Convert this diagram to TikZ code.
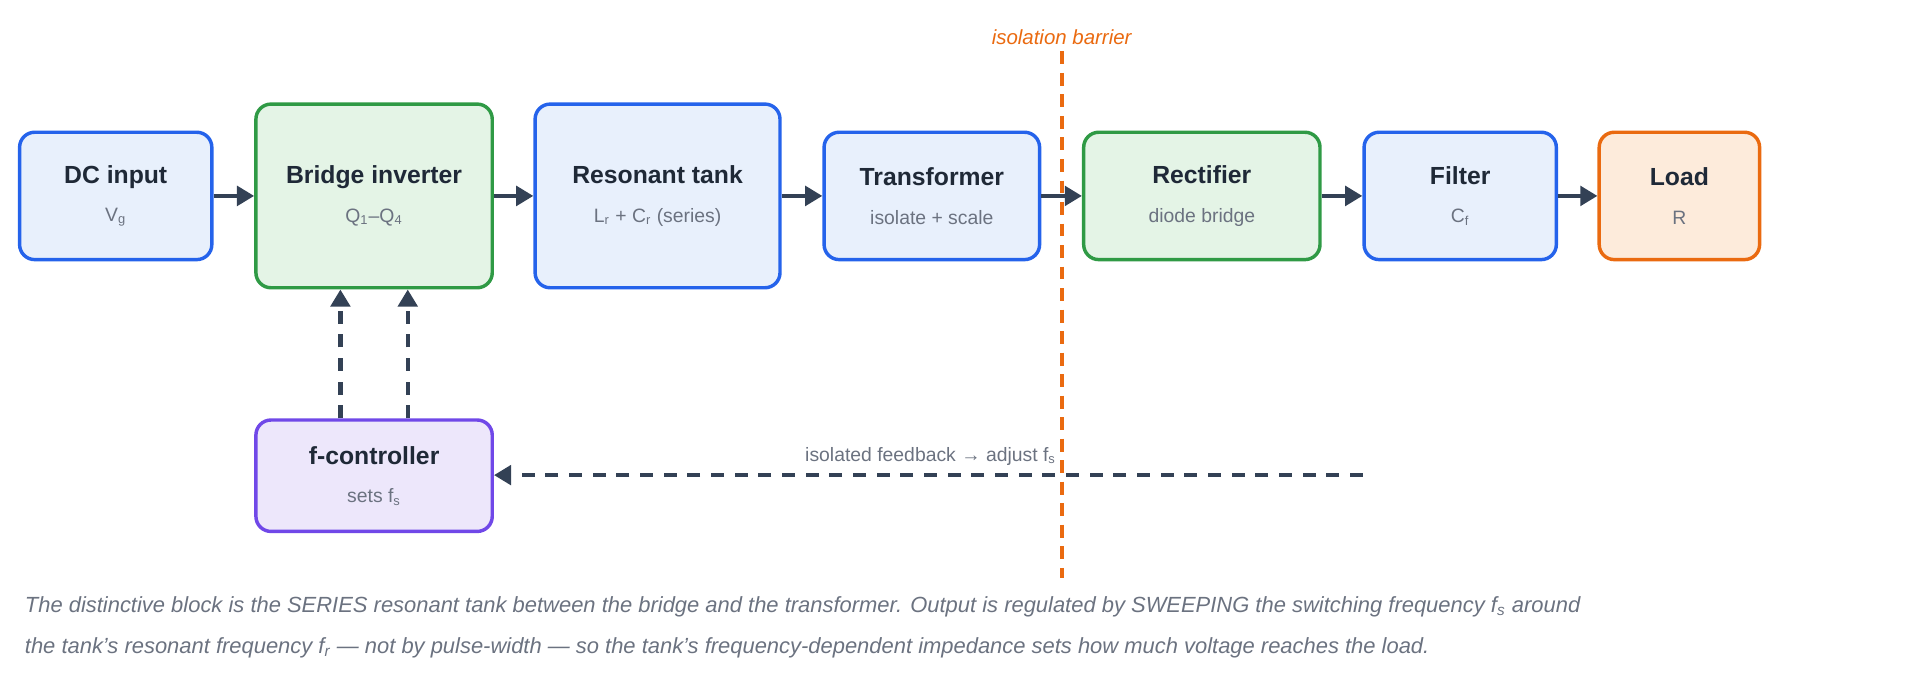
\documentclass[tikz,border=0pt]{standalone}
\usepackage{fontspec}
\setmainfont{Liberation Sans}
\usetikzlibrary{arrows.meta, positioning, calc}
\definecolor{bluebd}{HTML}{2563EB}
\definecolor{bluefl}{HTML}{E8F0FC}
\definecolor{greenbd}{HTML}{2F9A45}
\definecolor{greenfl}{HTML}{E4F4E6}
\definecolor{orangebd}{HTML}{EA6A10}
\definecolor{orangefl}{HTML}{FDEBDB}
\definecolor{purplebd}{HTML}{7048E8}
\definecolor{purplefl}{HTML}{EDE7FB}
\definecolor{arrowc}{HTML}{334155}
\definecolor{subc}{HTML}{6B7280}
\definecolor{textc}{HTML}{1F2937}
\tikzset{
  block/.style={draw=#1bd, fill=#1fl, line width=1.6pt, rounded corners=7pt, align=center, text=textc},
  flow/.style={-{Triangle[length=8pt,width=9pt]}, arrowc, line width=2pt},
  ctrl/.style={flow, dashed, dash pattern=on 6pt off 5pt},
}
\newcommand{\blk}[2]{{\fontsize{11.5}{14}\selectfont\bfseries #1}\\[6pt]{\fontsize{9}{11}\selectfont\color{subc}#2}}
\begin{document}
\begin{tikzpicture}[x=0.02cm,y=-0.02cm]
\useasboundingbox (0,0) rectangle (1568,555);
\node[block=blue, minimum width=157*0.02cm, minimum height=104*0.02cm] (dc) at (94.5,160) {\blk{DC input}{V\textsubscript{g}}};
\node[block=green, minimum width=193*0.02cm, minimum height=150*0.02cm] (br) at (305.5,160) {\blk{Bridge inverter}{Q\textsubscript{1}–Q\textsubscript{4}}};
\node[block=blue, minimum width=200*0.02cm, minimum height=150*0.02cm] (rt) at (537,160) {\blk{Resonant tank}{L\textsubscript{r} + C\textsubscript{r} (series)}};
\node[block=blue, minimum width=176*0.02cm, minimum height=104*0.02cm] (tr) at (761,160) {\blk{Transformer}{isolate + scale}};
\node[block=green, minimum width=193*0.02cm, minimum height=104*0.02cm] (rc) at (981.5,160) {\blk{Rectifier}{diode bridge}};
\node[block=blue, minimum width=157*0.02cm, minimum height=104*0.02cm] (fl) at (1192.5,160) {\blk{Filter}{C\textsubscript{f}}};
\node[block=orange, minimum width=131*0.02cm, minimum height=104*0.02cm] (ld) at (1371.5,160) {\blk{Load}{R}};
\node[block=purple, minimum width=193*0.02cm, minimum height=91*0.02cm] (fc) at (305.5,388.5) {\blk{f-controller}{sets f\textsubscript{s}}};
% main power path
\draw[flow] (dc) -- (br);
\draw[flow] (br) -- (rt);
\draw[flow] (rt) -- (tr);
\draw[flow] (tr) -- (rc);
\draw[flow] (rc) -- (fl);
\draw[flow] (fl) -- (ld);
% control
\draw[ctrl] (fc.north -| 278,0) -- (br.south -| 278,0);
\draw[ctrl] (fc.north -| 333,0) -- (br.south -| 333,0);
\coordinate (fbstart) at (1113,388);
\draw[ctrl] (fbstart) -- (fc.east |- fbstart);
\node[subc, font=\fontsize{9}{11}\selectfont] (fbl) at (760,373) {isolated feedback → adjust f\textsubscript{s}};
% isolation barrier
\draw[orangebd, line width=1.8pt, dash pattern=on 6pt off 4pt] (867,42) -- (867,472);
\node[orangebd, font=\fontsize{9.5}{11}\selectfont\itshape] (iso) at (867,30) {isolation barrier};
% caption
\node[subc, font=\fontsize{10.2}{12}\selectfont\itshape, anchor=north west, align=left, inner sep=0pt] (cap) at (20,487) {The distinctive block is the SERIES resonant tank between the bridge and the transformer. Output is regulated by SWEEPING the switching frequency \textit{f\textsubscript{s}} around\\[7pt]the tank’s resonant frequency \textit{f\textsubscript{r}} — not by pulse-width — so the tank’s frequency-dependent impedance sets how much voltage reaches the load.};
\end{tikzpicture}
\end{document}
